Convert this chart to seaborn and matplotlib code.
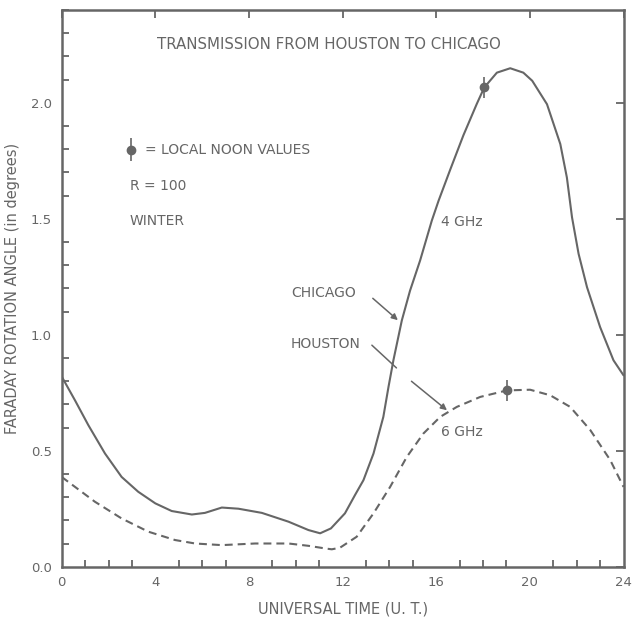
import matplotlib
matplotlib.use("Agg")
import matplotlib.pyplot as plt
from matplotlib.ticker import MultipleLocator
import seaborn as sns
import pandas as pd

# ---- data ----
chicago_hours = [0, 0.57, 1.14, 1.85, 2.56, 3.27, 4.0, 4.7, 5.56, 6.12, 6.84, 7.55,
                 8.55, 9.69, 10.54, 11.04, 11.5, 12.1, 12.53, 12.89, 13.32, 13.74,
                 13.96, 14.17, 14.53, 14.88, 15.31, 15.81, 16.1, 16.59, 17.16, 17.73,
                 18.05, 18.59, 19.16, 19.72, 20.1, 20.73, 21.3, 21.58, 21.8, 22.08,
                 22.44, 23.0, 23.57, 24.0]
chicago_angle = [0.82, 0.717, 0.61, 0.488, 0.387, 0.323, 0.273, 0.24, 0.225, 0.232,
                 0.255, 0.25, 0.232, 0.194, 0.158, 0.144, 0.165, 0.23, 0.309, 0.373,
                 0.488, 0.646, 0.775, 0.89, 1.062, 1.19, 1.32, 1.492, 1.578, 1.71,
                 1.86, 1.995, 2.066, 2.13, 2.149, 2.13, 2.095, 1.994, 1.822, 1.678,
                 1.506, 1.349, 1.205, 1.033, 0.89, 0.825]

houston_hours = [0, 0.57, 1.42, 2.56, 3.7, 4.84, 5.7, 6.84, 8.26, 9.69, 10.54, 11.3,
                 11.54, 11.89, 12.6, 13.32, 14.03, 14.74, 15.45, 16.17, 16.88, 17.88,
                 19.02, 20.01, 20.87, 21.72, 22.58, 23.43, 24.0]
houston_angle = [0.387, 0.344, 0.28, 0.208, 0.151, 0.115, 0.1, 0.093, 0.1, 0.1, 0.09,
                 0.078, 0.075, 0.082, 0.129, 0.23, 0.344, 0.473, 0.574, 0.646, 0.689,
                 0.732, 0.76, 0.763, 0.739, 0.689, 0.589, 0.46, 0.344]

noon_hours = [18.05, 19.02]
noon_angle = [2.066, 0.76]

x_ticks = [0, 4, 8, 12, 16, 20, 24]
y_ticks = [0.0, 0.5, 1.0, 1.5, 2.0]

GRAY = "#666666"

sns.set_theme(style="white")
plt.rcParams["font.family"] = ["DejaVu Sans"]

df = pd.concat([
    pd.DataFrame({"hour": chicago_hours, "angle": chicago_angle, "city": "CHICAGO"}),
    pd.DataFrame({"hour": houston_hours, "angle": houston_angle, "city": "HOUSTON"}),
])

fig = plt.figure(figsize=(6.32, 6.19), dpi=100)
ax = fig.add_axes([0.0976, 0.0845, 0.8890, 0.8993])

sns.lineplot(data=df, x="hour", y="angle", style="city",
             dashes={"CHICAGO": "", "HOUSTON": (3.8, 2.4)},
             color=GRAY, linewidth=1.5, sort=True, estimator=None,
             legend=False, ax=ax)

ax.errorbar(noon_hours, noon_angle, yerr=0.045, fmt="o", color=GRAY,
            markersize=6, elinewidth=1.2, capsize=0, zorder=5)

ax.set_xlim(0, 24)
ax.set_ylim(0, 2.4)
ax.set_xticks(x_ticks)
ax.set_xticklabels([str(t) for t in x_ticks])
ax.set_yticks(y_ticks)
ax.set_yticklabels([f"{t:.1f}" for t in y_ticks])
ax.xaxis.set_minor_locator(MultipleLocator(1))
ax.yaxis.set_minor_locator(MultipleLocator(0.1))

ax.tick_params(which="both", direction="in", color=GRAY, width=1.3,
               labelcolor=GRAY, labelsize=9.5)
ax.tick_params(which="major", length=6, top=True, right=True, pad=7)
ax.tick_params(which="minor", length=5, bottom=True, left=True, top=False, right=False)
for s in ax.spines.values():
    s.set_color(GRAY)
    s.set_linewidth(1.8)

ax.set_xlabel("UNIVERSAL TIME (U. T.)", color=GRAY, fontsize=10.5, labelpad=9)
ax.set_ylabel("FARADAY ROTATION ANGLE (in degrees)", color=GRAY, fontsize=10.5,
              labelpad=8)

txt = dict(color=GRAY, fontsize=10, va="center")
ax.text(11.4, 2.25, "TRANSMISSION FROM HOUSTON TO CHICAGO", ha="center",
        color=GRAY, fontsize=10.8, va="center")
ax.errorbar([2.95], [1.798], yerr=0.05, fmt="o", color=GRAY, markersize=6,
            elinewidth=1.2, capsize=0, clip_on=False)
ax.text(3.55, 1.798, "= LOCAL NOON VALUES", ha="left", **txt)
ax.text(2.9, 1.64, "R = 100", ha="left", **txt)
ax.text(2.9, 1.489, "WINTER", ha="left", **txt)
ax.text(16.2, 1.485, "4 GHz", ha="left", **txt)
ax.text(16.2, 0.582, "6 GHz", ha="left", **txt)
ax.text(9.8, 1.182, "CHICAGO", ha="left", **txt)
ax.text(9.8, 0.961, "HOUSTON", ha="left", **txt)

arrow = dict(arrowstyle="-|>", color=GRAY, lw=1.1, mutation_scale=9)
ax.annotate("", xy=(14.45, 1.055), xytext=(13.2, 1.165), arrowprops=arrow)
ax.plot([13.25, 14.3], [0.955, 0.857], color=GRAY, lw=1.1)
ax.annotate("", xy=(16.55, 0.667), xytext=(14.85, 0.807), arrowprops=arrow)

fig.savefig("out.png", dpi=100)
